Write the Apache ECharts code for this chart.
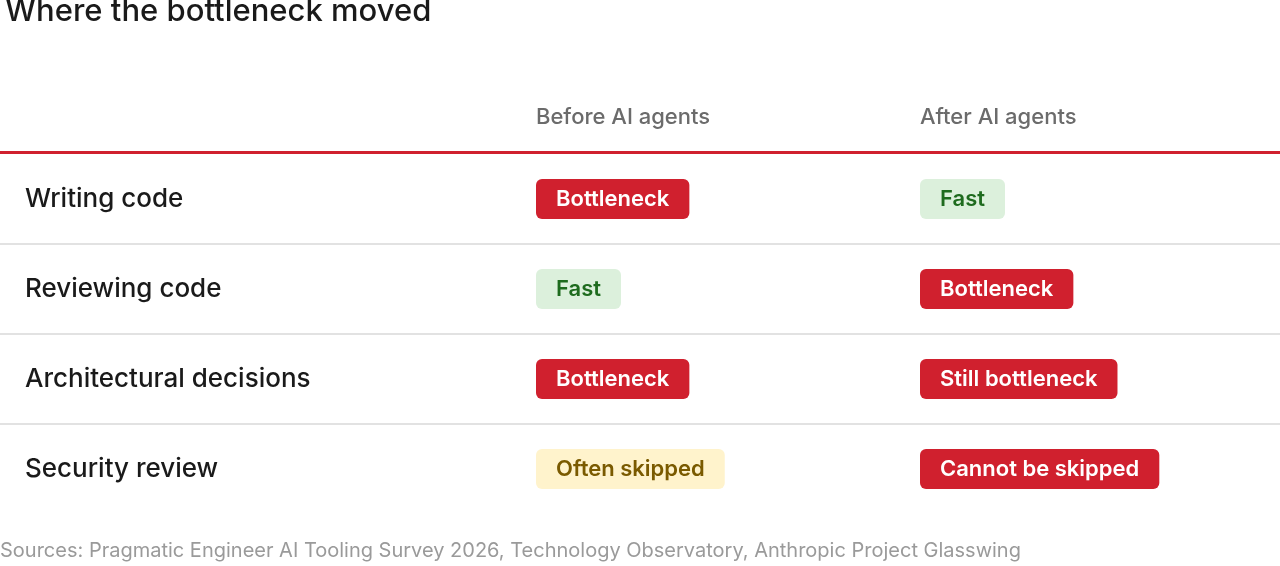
<!DOCTYPE html>
<html><head><meta charset="utf-8">
<script src="https://cdn.jsdelivr.net/npm/echarts@6/dist/echarts.min.js"></script>
<style>html,body{margin:0;padding:0;background:#fff}#c{width:1280px;height:566px}</style>
</head><body><div id="c"></div>
<script>
const rows = ['Writing code','Reviewing code','Architectural decisions','Security review'];
const columns = ['Before AI agents','After AI agents'];
const before = ['Bottleneck','Fast','Bottleneck','Often skipped'];
const after = ['Fast','Bottleneck','Still bottleneck','Cannot be skipped'];
const colStart = [536, 920];
const styles = {
  'Bottleneck':{bg:'#d0202e',fg:'#ffffff'},
  'Still bottleneck':{bg:'#d0202e',fg:'#ffffff'},
  'Cannot be skipped':{bg:'#d0202e',fg:'#ffffff'},
  'Fast':{bg:'#dcf0dc',fg:'#1e6b1e'},
  'Often skipped':{bg:'#fff3cc',fg:'#7a5a00'}
};
const FONT='Inter, "Noto Sans", sans-serif';
const data=[];
rows.forEach((r,i)=>{data.push([i,r,before[i],after[i]]);});
const chart=echarts.init(document.getElementById('c'));
chart.setOption({
  animation:false,
  title:{text:'Where the bottleneck moved',left:0,top:-9,textStyle:{fontFamily:FONT,fontSize:31,fontWeight:500,color:'#1a1a1a'}},
  grid:{left:0,right:0,top:154,height:360},
  xAxis:{type:'value',min:0,max:1280,show:false},
  yAxis:{type:'category',data:rows,inverse:true,show:false},
  graphic:[
    {type:'rect',left:0,top:151,shape:{width:1280,height:3},style:{fill:'#d0202e'}},
    {type:'text',left:colStart[0],top:106,style:{text:columns[0],font:'500 22px '+FONT,fill:'#6b6b6b'}},
    {type:'text',left:colStart[1],top:106,style:{text:columns[1],font:'500 22px '+FONT,fill:'#6b6b6b'}},
    {type:'text',left:0,top:541,style:{text:'Sources: Pragmatic Engineer AI Tooling Survey 2026, Technology Observatory, Anthropic Project Glasswing',font:'400 20px '+FONT,fill:'#9a9a9a'}}
  ],
  series:[{
    type:'custom',
    coordinateSystem:'cartesian2d',
    encode:{y:1},
    data:data,
    renderItem:function(params,api){
      const i=api.value(0);
      const c=api.coord([0,i]);
      const band=api.size([0,1])[1];
      const cy=c[1];
      const children=[];
      if(i<rows.length-1){
        children.push({type:'rect',shape:{x:0,y:cy+band/2-1,width:1280,height:2},style:{fill:'#e2e2e2'}});
      }
      children.push({type:'text',style:{text:rows[i],x:25,y:cy,verticalAlign:'middle',font:'500 26px '+FONT,fill:'#1a1a1a'}});
      [before[i],after[i]].forEach((v,k)=>{
        const s=styles[v];
        const x=api.coord([colStart[k],i])[0];
        children.push({type:'text',style:{text:v,x:x,y:cy,verticalAlign:'middle',font:'600 22px '+FONT,fill:s.fg,
          backgroundColor:s.bg,padding:[9,20,9,20],borderRadius:6}});
      });
      return {type:'group',children:children};
    }
  }]
});
</script></body></html>
